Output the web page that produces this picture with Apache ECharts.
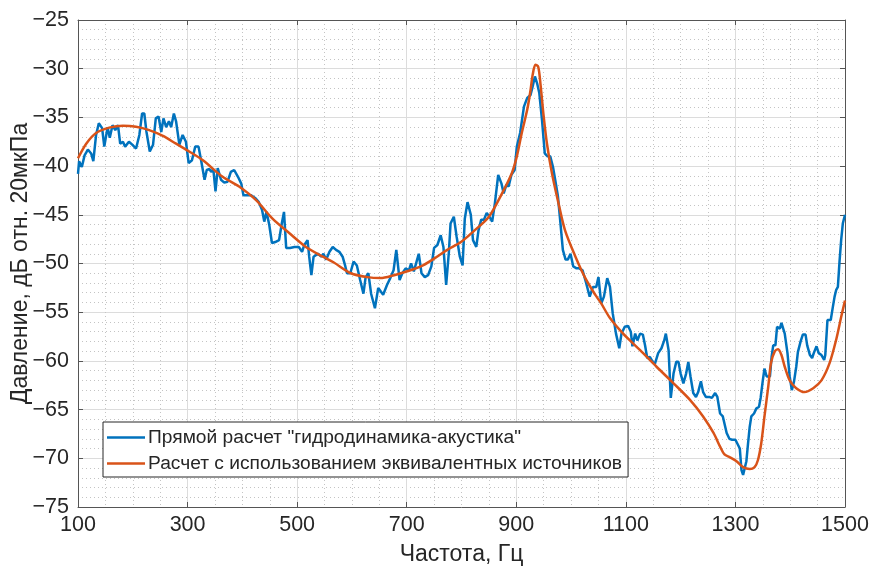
<!DOCTYPE html>
<html>
<head>
<meta charset="utf-8">
<script src="https://cdn.jsdelivr.net/npm/echarts@6/dist/echarts.min.js"></script>
<style>
  html, body { margin: 0; padding: 0; background: #fff; }
  #main { width: 871px; height: 567px; }
</style>
</head>
<body>
<div id="main"></div>
<script>
// blue curve: direct hydrodynamics-acoustics calculation
var freqDirect = [100,102,107,112,118,124,128,133,138,144,148,154,158,163,168,173,177,182,186,193,199,206,212,217,221,225,231,237,242,247,252,256,261,266,270,275,279,285,291,297,302,308,314,320,325,331,335,340,343,347,351,355,361,367,373,379,385,392,398,402,407,416,424,430,436,440,444,449,454,460,467,472,476,480,487,495,503,509,513,519,522,526,530,538,544,548,553,559,565,571,577,583,588,591,597,603,609,615,621,625,630,635,642,648,653,657,664,670,676,681,687,692,698,704,708,713,718,722,727,733,739,745,750,756,762,767,772,777,780,786,791,797,802,806,811,817,821,827,831,836,841,846,851,856,861,867,873,877,882,886,891,897,901,907,914,920,926,930,934,938,942,947,952,957,962,967,971,976,980,985,990,994,999,1004,1010,1015,1021,1027,1034,1040,1046,1050,1055,1060,1066,1071,1076,1082,1088,1092,1098,1104,1109,1112,1117,1121,1126,1131,1135,1139,1144,1149,1153,1159,1165,1170,1173,1178,1182,1187,1192,1196,1200,1205,1210,1214,1218,1223,1228,1232,1237,1241,1246,1252,1257,1263,1267,1272,1277,1284,1289,1294,1300,1303,1308,1311,1314,1317,1320,1323,1326,1329,1334,1338,1343,1346,1350,1353,1357,1363,1366,1369,1373,1376,1381,1384,1387,1390,1395,1399,1403,1407,1411,1414,1419,1423,1428,1431,1436,1440,1443,1448,1452,1457,1462,1464,1468,1471,1474,1478,1481,1484,1487,1490,1493,1496,1500];
var levelDirect = [-40.8,-39.5,-40.1,-38.9,-38.3,-38.7,-39.5,-36.8,-35.6,-36.1,-38.0,-36.0,-37.1,-35.8,-36.3,-35.8,-37.7,-37.5,-38.0,-37.5,-37.8,-38.2,-36.8,-34.6,-34.6,-36.5,-38.5,-37.8,-35.1,-34.9,-36.5,-35.1,-36.0,-35.4,-36.0,-34.6,-35.4,-37.8,-36.8,-37.5,-39.7,-39.4,-38.0,-38.0,-39.5,-41.4,-40.4,-40.3,-40.6,-40.3,-42.6,-40.2,-41.4,-41.7,-41.6,-40.6,-40.4,-41.1,-41.8,-43.0,-43.0,-43.0,-43.3,-43.7,-44.5,-45.7,-44.7,-46.0,-47.9,-47.8,-47.6,-45.9,-44.7,-48.4,-48.4,-48.3,-48.3,-48.8,-48.1,-47.6,-49.3,-51.2,-49.3,-49.0,-49.3,-49.0,-49.6,-48.8,-48.3,-48.6,-48.8,-49.3,-50.3,-51.0,-51.0,-49.8,-50.2,-51.7,-53.1,-51.4,-51.0,-53.1,-54.6,-52.5,-52.9,-53.2,-52.2,-51.5,-50.7,-48.6,-51.7,-51.0,-50.5,-50.7,-50.0,-50.8,-49.8,-49.0,-51.0,-51.4,-51.2,-50.3,-48.4,-48.1,-47.1,-48.3,-52.2,-48.8,-45.9,-45.2,-47.2,-49.3,-50.2,-45.4,-43.7,-45.0,-47.6,-48.3,-46.6,-45.5,-45.5,-44.8,-45.2,-45.7,-43.8,-40.9,-41.8,-42.8,-41.9,-42.1,-40.9,-40.4,-38.0,-36.6,-33.9,-33.0,-32.7,-31.8,-30.8,-31.5,-32.5,-35.3,-38.7,-39.0,-39.0,-40.1,-41.4,-43.1,-45.5,-48.6,-49.6,-49.6,-49.0,-50.3,-50.5,-50.5,-50.7,-51.9,-53.4,-52.4,-52.4,-51.4,-54.1,-53.4,-51.5,-52.4,-55.1,-57.2,-58.7,-57.2,-56.5,-56.4,-57.0,-58.5,-57.2,-57.9,-57.2,-57.3,-58.4,-59.7,-59.6,-60.1,-60.3,-59.2,-58.7,-57.9,-57.2,-58.9,-63.8,-61.3,-60.1,-60.1,-61.3,-62.3,-61.3,-60.1,-61.6,-63.3,-63.7,-63.2,-62.1,-63.2,-63.7,-63.7,-63.8,-63.3,-63.7,-65.4,-65.7,-67.4,-68.0,-68.1,-68.1,-68.1,-69.0,-71.2,-71.7,-71.5,-70.3,-68.5,-66.8,-65.7,-65.4,-64.9,-64.7,-63.8,-62.0,-60.8,-61.6,-61.6,-59.6,-58.4,-58.4,-56.5,-56.7,-56.1,-56.0,-57.2,-59.2,-61.6,-63.0,-62.1,-60.6,-59.1,-58.0,-57.3,-57.3,-58.4,-59.4,-59.7,-59.2,-58.5,-59.2,-59.4,-59.9,-59.4,-55.8,-56.0,-55.8,-54.4,-53.4,-52.7,-52.4,-49.8,-47.6,-45.9,-45.0];

// orange curve: equivalent sources
var freqEquiv = [100,115,133,157,182,206,230,255,279,303,328,364,394,425,455,486,516,547,567,598,628,652,677,701,726,750,774,799,822,850,874,892,901,910,920,926,930,935,940,944,950,956,965,977,989,1008,1026,1044,1055,1071,1095,1126,1156,1187,1217,1241,1260,1272,1280,1290,1302,1314,1326,1335,1341,1347,1353,1360,1365,1372,1378,1384,1390,1399,1411,1426,1442,1457,1472,1484,1493,1500];
var levelEquiv = [-39.2,-37.7,-36.6,-36.05,-35.85,-35.95,-36.3,-36.9,-37.7,-38.5,-39.4,-41.1,-42.1,-43.5,-45.4,-46.9,-48.3,-49.3,-49.9,-51.0,-51.4,-51.5,-51.2,-50.8,-50.3,-49.5,-48.6,-47.8,-46.7,-45.2,-42.8,-40.7,-39.0,-36.6,-34.2,-32.2,-30.6,-29.6,-29.8,-31.5,-34.9,-37.7,-40.7,-43.8,-46.6,-49.3,-51.5,-53.2,-54.1,-55.6,-57.2,-58.9,-60.6,-62.3,-64.0,-65.7,-67.4,-68.8,-69.6,-69.9,-70.3,-70.9,-71.1,-70.9,-70.2,-68.5,-65.7,-62.6,-60.2,-59.0,-58.8,-59.4,-60.6,-62.0,-62.8,-63.2,-62.8,-62.0,-60.2,-57.8,-55.5,-53.8];

var seriesNames = ['Прямой расчет "гидродинамика-акустика"', 'Расчет с использованием эквивалентных источников'];

function pairs(xs, ys) {
  var out = [];
  for (let i = 0; i < xs.length; i++) out.push([xs[i], ys[i]]);
  return out;
}

var myChart = echarts.init(document.getElementById('main'));

var font = "'Liberation Sans', Arial, sans-serif";
var axisColor = '#555555';
var textColor = '#262626';

// MATLAB prints a real minus sign
function tickText(v) { return String(v).replace('-', '\u2212'); }

function boxAxis(pos, isX) {
  // extra axis to draw MATLAB-like box with inward ticks
  return {
    type: 'value',
    position: pos,
    min: isX ? 100 : -75,
    max: isX ? 1500 : -25,
    interval: isX ? 200 : 5,
    axisLine: { show: true, onZero: false, lineStyle: { color: axisColor, width: 1 } },
    axisTick: { show: true, inside: true, length: 5, lineStyle: { color: axisColor } },
    axisLabel: { show: false },
    splitLine: { show: false }
  };
}

var option = {
  animation: false,
  backgroundColor: '#fff',
  grid: { left: 78, right: 26, top: 20, bottom: 60, outerBoundsMode: 'none' },
  legend: {
    left: 103,
    top: 422,
    orient: 'vertical',
    backgroundColor: '#fff',
    borderColor: '#262626',
    borderWidth: 1,
    borderRadius: 0,
    padding: [6, 6, 4, 4],
    itemGap: 7,
    itemWidth: 38,
    itemHeight: 2.5,
    icon: 'rect',
    textStyle: { fontFamily: font, fontSize: 19.2, color: textColor, padding: [0, 0, 0, -2] },
    data: seriesNames
  },
  xAxis: [{
    type: 'value',
    min: 100,
    max: 1500,
    interval: 200,
    name: 'Частота, Гц',
    nameLocation: 'middle',
    nameGap: 36,
    nameMoveOverlap: false,
    nameTextStyle: { fontFamily: font, fontSize: 23, color: textColor },
    axisLine: { show: true, onZero: false, lineStyle: { color: axisColor } },
    axisTick: { show: true, inside: true, length: 5, lineStyle: { color: axisColor } },
    axisLabel: { fontFamily: font, fontSize: 21.5, color: textColor, margin: 7, formatter: tickText },
    splitLine: { show: true, lineStyle: { color: '#dcdcdc', width: 1 } },
    minorTick: { show: true, splitNumber: 4, length: 0 },
    minorSplitLine: { show: true, lineStyle: { color: '#c4c4c4', width: 1, type: [1, 3] } }
  }, boxAxis('top', true)],
  yAxis: [{
    type: 'value',
    min: -75,
    max: -25,
    interval: 5,
    name: 'Давление, дБ отн. 20мкПа',
    nameLocation: 'middle',
    nameGap: 46,
    nameMoveOverlap: false,
    nameTextStyle: { fontFamily: font, fontSize: 23, color: textColor },
    axisLine: { show: true, onZero: false, lineStyle: { color: axisColor } },
    axisTick: { show: true, inside: true, length: 5, lineStyle: { color: axisColor } },
    axisLabel: { fontFamily: font, fontSize: 21.5, color: textColor, margin: 9, formatter: tickText },
    splitLine: { show: true, lineStyle: { color: '#dcdcdc', width: 1 } },
    minorTick: { show: true, splitNumber: 5, length: 0 },
    minorSplitLine: { show: true, lineStyle: { color: '#c4c4c4', width: 1, type: [1, 3] } }
  }, boxAxis('right', false)],
  series: [
    {
      name: seriesNames[0],
      type: 'line',
      symbol: 'none',
      data: pairs(freqDirect, levelDirect),
      lineStyle: { color: '#0072BD', width: 2.5 },
      itemStyle: { color: '#0072BD' },
      z: 3
    },
    {
      name: seriesNames[1],
      type: 'line',
      symbol: 'none',
      smooth: 0.3,
      data: pairs(freqEquiv, levelEquiv),
      lineStyle: { color: '#D95319', width: 2.5 },
      itemStyle: { color: '#D95319' },
      z: 4
    }
  ]
};

myChart.setOption(option);
</script>
</body>
</html>
